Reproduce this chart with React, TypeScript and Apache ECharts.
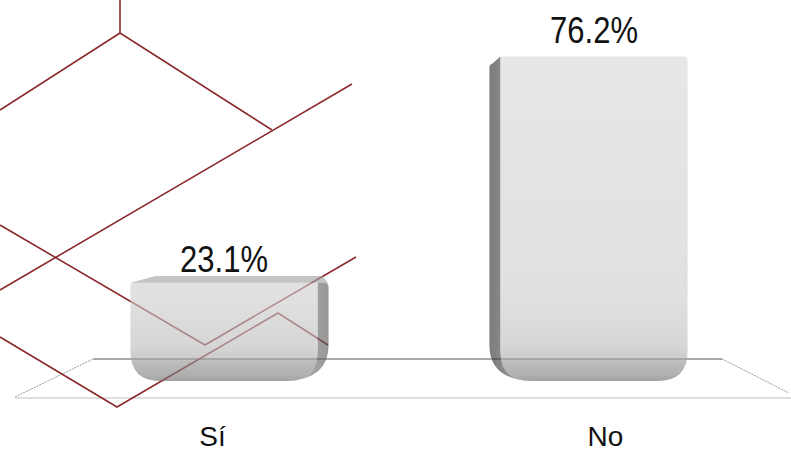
import React, { useEffect, useRef } from "react";
import * as echarts from "echarts";

const categories = ["Sí", "No"];
const values = [23.1, 76.2];
const valueLabels = ["23.1%", "76.2%"];

const FONT = "'Liberation Sans', Arial, sans-serif";
const ALPHA = 0.62;
const shade = (d: number) => {
  const c = Math.max(0, Math.min(255, Math.round((d - 255 * (1 - ALPHA)) / ALPHA)));
  return `rgba(${c},${c},${c},${ALPHA})`;
};

const RED = "#8b2a2e";

function renderBar(params: any, api: any) {
  const idx = api.value(0);
  const val = api.value(1);
  const top = api.coord([idx, val]);
  const base = api.coord([idx, 0]);
  const band = api.size([1, 0])[0];
  const cx = top[0];
  const total = band * 0.552;
  const s = 11;
  const w = total - s;
  const x0 = cx - total / 2;
  const sideRight = cx < api.getWidth() / 2;
  const fx = sideRight ? x0 : x0 + s;
  const topY = top[1];
  const botY = base[1];
  const R = 30;
  const rt = 3;
  const depth = Math.max(0, (topY - 57) * 0.03);

  const frontPath =
    `M${fx},${topY + rt} Q${fx},${topY} ${fx + rt},${topY} L${fx + w - rt},${topY} ` +
    `Q${fx + w},${topY} ${fx + w},${topY + rt} L${fx + w},${botY - R} ` +
    `Q${fx + w},${botY} ${fx + w - R},${botY} L${fx + R},${botY} ` +
    `Q${fx},${botY} ${fx},${botY - R} Z`;

  const sideTop = topY + Math.max(1, 8 - depth);
  let sidePath: string;
  if (sideRight) {
    const ix = fx + w;
    const ox = ix + s;
    sidePath =
      `M${ix},${topY} L${ox - 3},${sideTop - 1} Q${ox},${sideTop} ${ox},${sideTop + 3} ` +
      `L${ox},${botY - R - 6} Q${ox},${botY - 2} ${ix - R},${botY} ` +
      `Q${ix},${botY} ${ix},${botY - R} Z`;
  } else {
    const ix = fx;
    const ox = ix - s;
    sidePath =
      `M${ix},${topY} L${ox + 3},${sideTop - 1} Q${ox},${sideTop} ${ox},${sideTop + 3} ` +
      `L${ox},${botY - R - 6} Q${ox},${botY - 2} ${ix + R},${botY} ` +
      `Q${ix},${botY} ${ix},${botY - R} Z`;
  }

  const frontFill = {
    type: "linear",
    x: 0,
    y: 0,
    x2: 0,
    y2: 450,
    global: true,
    colorStops: [
      { offset: 0, color: shade(232) },
      { offset: 300 / 450, color: shade(224) },
      { offset: 345 / 450, color: shade(214) },
      { offset: 358 / 450, color: shade(204) },
      { offset: 361 / 450, color: shade(190) },
      { offset: 376 / 450, color: shade(174) },
      { offset: 384 / 450, color: shade(156) },
    ],
  };
  const sideFill = {
    type: "linear",
    x: sideRight ? 1 : 0,
    y: 0,
    x2: sideRight ? 0 : 1,
    y2: 0,
    colorStops: [
      { offset: 0, color: shade(sideRight ? 150 : 125) },
      { offset: 1, color: shade(sideRight ? 185 : 160) },
    ],
  };

  const children: any[] = [
    { type: "path", shape: { pathData: sidePath }, style: { fill: sideFill } },
    { type: "path", shape: { pathData: frontPath }, style: { fill: frontFill } },
  ];
  if (depth > 1) {
    const tx1 = sideRight ? fx : fx - s;
    const tx2 = sideRight ? fx + w + s : fx + w;
    children.push({
      type: "polygon",
      shape: {
        points: [
          [fx, topY],
          [tx1 + (sideRight ? 25 : 5), topY - depth],
          [tx2 - (sideRight ? 6 : 25), topY - depth],
          [tx2, topY + 1],
          [fx + w, topY],
        ],
      },
      style: { fill: shade(196) },
    });
  }
  children.push({
    type: "text",
    x: fx + w / 2,
    y: topY - depth - (27 - depth * 1.5),
    scaleY: 1.17,
    style: {
      text: valueLabels[params.dataIndex],
      fill: "#111",
      fontSize: 31,
      fontFamily: FONT,
      align: "center",
      verticalAlign: "middle",
    },
  });
  return { type: "group", children };
}

const decoLines: number[][][] = [
  [[120, 0], [120, 33]],
  [[0, 110], [120, 33], [272, 130]],
  [[352, 84], [0, 290]],
  [[0, 225], [205, 345], [356, 257]],
  [[0, 337], [117, 407], [278, 313], [328, 345]],
];

export default function App() {
  const ref = useRef<HTMLDivElement>(null);
  useEffect(() => {
    document.body.style.margin = "0";
    if (!ref.current) return;
    const chart = echarts.init(ref.current, null, { renderer: "svg" });
    const graphics: any[] = [
      { type: "line", z: 0, shape: { x1: 93, y1: 359, x2: 722, y2: 359 }, style: { stroke: "#8c8c8c", lineWidth: 1.5 } },
      { type: "line", z: 0, shape: { x1: 15, y1: 398, x2: 791, y2: 398 }, style: { stroke: "#d4d4d4", lineWidth: 1.5 } },
      { type: "line", z: 0, shape: { x1: 15, y1: 397, x2: 93, y2: 359 }, style: { stroke: "#9a9a9a", lineWidth: 1, lineDash: [2, 1] } },
      { type: "line", z: 0, shape: { x1: 722, y1: 359, x2: 789, y2: 393 }, style: { stroke: "#9a9a9a", lineWidth: 1, lineDash: [2, 1] } },
      ...decoLines.map((pts) => ({
        type: "polyline",
        z: 0,
        shape: { points: pts },
        style: { stroke: RED, lineWidth: 1.6, fill: null },
      })),
    ];
    chart.setOption({
      animation: false,
      backgroundColor: "#ffffff",
      grid: { left: 50, right: 23, top: 0, bottom: 68, containLabel: false },
      xAxis: {
        type: "category",
        data: categories,
        axisLine: { show: false },
        axisTick: { show: false },
        splitLine: { show: false },
        axisLabel: {
          margin: 41,
          formatter: (v: string) => (v === categories[0] ? `{l|${v}}` : `{r|${v}}`),
          rich: {
            l: { fontSize: 28, lineHeight: 28, fontFamily: FONT, color: "#111", padding: [0, 34, 0, 0] },
            r: { fontSize: 28, lineHeight: 28, fontFamily: FONT, color: "#111", padding: [0, 0, 0, 34] },
          },
        },
      },
      yAxis: { type: "value", min: 0, max: 89.5, show: false },
      graphic: { elements: graphics },
      series: [
        {
          type: "custom",
          renderItem: renderBar,
          data: values.map((v, i) => [i, v]),
          encode: { x: 0, y: 1 },
          clip: false,
          z: 2,
        },
      ],
    });
    return () => chart.dispose();
  }, []);
  return <div ref={ref} style={{ width: 791, height: 450 }} />;
}
